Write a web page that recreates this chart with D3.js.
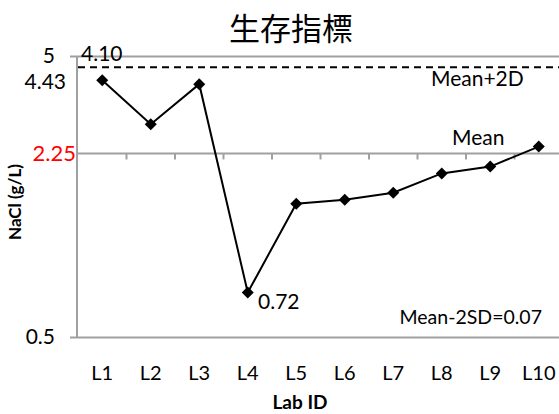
<!DOCTYPE html>
<html>
<head>
<meta charset="utf-8">
<script src="https://cdn.jsdelivr.net/npm/d3@7"></script>
<style>
  body { margin: 0; background: #fff; }
  text { font-family: Lato, "Open Sans", sans-serif; fill: #000; }
</style>
</head>
<body>
<div id="viz"></div>
<script>
var labs = ["L1", "L2", "L3", "L4", "L5", "L6", "L7", "L8", "L9", "L10"];
var nacl = [4.10, 2.86, 3.97, 0.72, 1.49, 1.54, 1.63, 1.91, 2.02, 2.38];
var yTicks = [0.5, 5];
var meanVal = 2.25;
var upperVal = 4.56;   // where the dashed line sits in the picture

var width = 559,
    height = 414;

var svg = d3.select("#viz").append("svg")
    .attr("width", width)
    .attr("height", height);

var x = d3.scaleBand().domain(labs).range([78, 563]);
var y = d3.scaleLog().domain([0.5, 5]).range([337, 56]);

// title
svg.append("text")
    .attr("x", 291)
    .attr("y", 40)
    .attr("text-anchor", "middle")
    .style("font-family", "'Noto Sans CJK TC', 'Noto Sans CJK SC', sans-serif")
    .style("font-size", "31px")
    .text("生存指標");

// gridlines at 5 and 0.5 with outside ticks
var yAxis = svg.append("g")
    .attr("transform", "translate(70,0)")
    .call(d3.axisLeft(y).tickValues(yTicks).tickSize(-(width - 70)).tickPadding(15)
      .tickFormat(d3.format("")));
yAxis.select(".domain").remove();
yAxis.selectAll("line").attr("stroke", "#a0a0a0").attr("stroke-width", 2);
yAxis.selectAll("text").style("font-size", "21px").attr("dy", "0.3em");

// left axis line
svg.append("line")
    .attr("x1", 77).attr("x2", 77)
    .attr("y1", y(5)).attr("y2", y(0.5))
    .attr("stroke", "#a0a0a0").attr("stroke-width", 2);

// mean line acting as category axis
svg.append("line")
    .attr("x1", 77).attr("x2", width)
    .attr("y1", y(meanVal)).attr("y2", y(meanVal))
    .attr("stroke", "#a0a0a0").attr("stroke-width", 2);

svg.selectAll(".cat-tick")
    .data(labs.slice(1))
  .enter().append("line")
    .attr("class", "cat-tick")
    .attr("x1", function(d) { return x(d); })
    .attr("x2", function(d) { return x(d); })
    .attr("y1", y(meanVal))
    .attr("y2", y(meanVal) + 6)
    .attr("stroke", "#a0a0a0").attr("stroke-width", 2);

// dashed upper line
svg.append("line")
    .attr("x1", 78).attr("x2", width)
    .attr("y1", y(upperVal)).attr("y2", y(upperVal))
    .attr("stroke", "#000").attr("stroke-width", 2)
    .attr("stroke-dasharray", "7,5");

// category labels
var xAxis = svg.append("g")
    .attr("transform", "translate(0," + y(0.5) + ")")
    .call(d3.axisBottom(x).tickSize(0).tickPadding(29));
xAxis.select(".domain").remove();
xAxis.selectAll("text").style("font-size", "20px");

// data line
var line = d3.line()
    .x(function(d, i) { return x(labs[i]) + x.bandwidth() / 2; })
    .y(function(d) { return y(d); });

svg.append("path")
    .datum(nacl)
    .attr("d", line)
    .attr("fill", "none")
    .attr("stroke", "#000")
    .attr("stroke-width", 2);

svg.selectAll(".pt")
    .data(nacl)
  .enter().append("path")
    .attr("class", "pt")
    .attr("d", d3.symbol(d3.symbolSquare, 72))
    .attr("transform", function(d, i) {
      return "translate(" + (x(labs[i]) + x.bandwidth() / 2) + "," + y(d) + ") rotate(45)";
    })
    .attr("fill", "#000");

// annotations
function note(tx, ty, str, size, anchor, color) {
  svg.append("text")
      .attr("x", tx).attr("y", ty)
      .attr("text-anchor", anchor || "start")
      .style("font-size", size + "px")
      .style("fill", color || "#000")
      .text(str);
}
note(81, 61, "4.10", 21);
note(66, 89, "4.43", 21, "end");
note(76, 161, "2.25", 22, "end", "#ff0000");
note(431, 86, "Mean+2D", 21);
note(452, 145, "Mean", 21);
note(258, 309, "0.72", 21);
note(542, 324, "Mean-2SD=0.07", 19.5, "end");

// axis titles
svg.append("text")
    .attr("x", 300).attr("y", 409)
    .attr("text-anchor", "middle")
    .style("font-size", "19px")
    .style("font-weight", "bold")
    .text("Lab ID");

svg.append("text")
    .attr("transform", "translate(21,202) rotate(-90)")
    .attr("text-anchor", "middle")
    .style("font-size", "17px")
    .style("font-weight", "bold")
    .text("NaCl (g/L)");
</script>
</body>
</html>
